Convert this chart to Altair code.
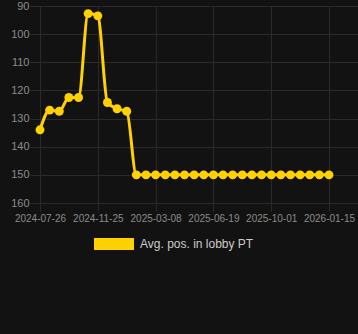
import altair as alt
import pandas as pd

positions = [134.0, 127.0, 127.4, 122.5, 122.5, 92.7, 93.5, 124.3, 126.5, 127.4,
             150, 150, 150, 150, 150, 150, 150, 150, 150, 150,
             150, 150, 150, 150, 150, 150, 150, 150, 150, 150, 150]
tick_labels = ["2024-07-26", "2024-11-25", "2025-03-08", "2025-06-19", "2025-10-01", "2026-01-15"]
tick_index = [0, 6, 12, 18, 24, 30]
y_ticks = [90, 100, 110, 120, 130, 140, 150, 160]
series_name = "Avg. pos. in lobby PT"

df = pd.DataFrame({
    "i": list(range(len(positions))),
    "pos": positions,
    "series": [series_name] * len(positions),
})

gold = "#FFD100"
grid = "#2a2a2a"
label_expr = "[" + ",".join(f"'{t}'" for t in tick_labels) + "][round(datum.value / 6)]"

x = alt.X("i:Q",
          scale=alt.Scale(domain=[-1.038, 33.01], nice=False, zero=False),
          axis=alt.Axis(values=tick_index, labelExpr=label_expr, title=None,
                        domain=False, grid=True, gridColor=grid, tickColor=grid,
                        tickSize=8, labelColor="#8c8c8c", labelFontSize=10,
                        labelFont="Liberation Sans", labelPadding=2, labelFlush=False,
                        labelOverlap=False))
y = alt.Y("pos:Q",
          scale=alt.Scale(domain=[90, 160], reverse=True, nice=False, zero=False),
          axis=alt.Axis(values=y_ticks, title=None, domain=False, ticks=False,
                        grid=True, gridColor=grid, labelColor="#8c8c8c",
                        labelFontSize=11, labelFont="Liberation Sans", labelPadding=1))
color = alt.Color("series:N",
                  scale=alt.Scale(domain=[series_name], range=[gold]),
                  legend=alt.Legend(title=None, orient="none", legendX=64, legendY=218,
                                    symbolType="M-1,-0.3H1V0.3H-1Z", symbolSize=1600,
                                    symbolStrokeWidth=0, symbolOpacity=1,
                                    symbolFillColor=gold,
                                    labelColor="#cccccc", labelFontSize=12,
                                    labelFont="Liberation Sans", labelOffset=6,
                                    padding=0))

base = alt.Chart(df)
line = base.mark_line(interpolate="monotone", strokeWidth=3, color=gold).encode(x=x, y=y, color=color)
pts = base.mark_circle(size=80, opacity=1, color=gold).encode(x=x, y=y)

chart = alt.layer(line, pts).properties(
    width=328, height=197,
    background="#121212",
    padding={"left": 30, "top": 6, "right": 0, "bottom": 131},
    autosize=alt.AutoSizeParams(type="none"),
).configure_view(stroke=None)

chart.save("out.html", embed_options={"renderer": "svg", "actions": False})
